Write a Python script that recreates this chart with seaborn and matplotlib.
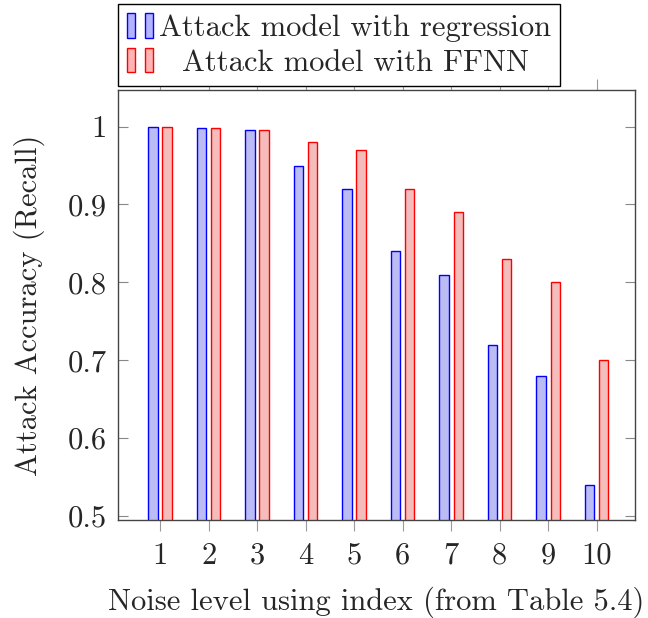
import pandas as pd
import numpy as np
import matplotlib
matplotlib.use("Agg")
import matplotlib.pyplot as plt
import seaborn as sns
from matplotlib.patches import Patch
from matplotlib.legend_handler import HandlerTuple
from matplotlib.transforms import Affine2D

noise_levels = ["1", "2", "3", "4", "5", "6", "7", "8", "9", "10"]
regression = [1.0, 0.998, 0.995, 0.95, 0.92, 0.84, 0.81, 0.72, 0.68, 0.54]
ffnn = [1.0, 0.998, 0.996, 0.98, 0.97, 0.92, 0.89, 0.83, 0.80, 0.70]
series_names = ["Attack model with regression", "Attack model with FFNN"]

data = pd.DataFrame({
    "noise": noise_levels * 2,
    "accuracy": regression + ffnn,
    "model": [series_names[0]] * 10 + [series_names[1]] * 10,
})

sns.set_style("white")
plt.rcParams['font.family'] = ['cmr10', 'DejaVu Serif']
plt.rcParams['mathtext.fontset'] = 'cm'
plt.rcParams['axes.formatter.use_mathtext'] = True

fill = {series_names[0]: (0.7, 0.7, 1.0), series_names[1]: (1.0, 0.7, 0.7)}
edge = {series_names[0]: (0, 0, 1), series_names[1]: (1, 0, 0)}
fs = 22

fig = plt.figure(figsize=(6.48, 6.18), dpi=100)
ax = fig.add_axes([0.182, 0.1586, 0.798, 0.6958])

sns.barplot(data=data, x="noise", y="accuracy", hue="model", order=noise_levels,
            hue_order=series_names, palette=fill, width=0.58, gap=0.33,
            ax=ax, legend=False)

for cont, name in zip(ax.containers, series_names):
    for bar in cont:
        bar.set_edgecolor(edge[name])
        bar.set_linewidth(1.0)

ax.set_xlim(-0.87, 9.79)
ax.set_ylim(0.495, 1.047)
ax.set_yticks([0.5, 0.6, 0.7, 0.8, 0.9, 1.0])
ax.set_yticklabels(["0.5", "0.6", "0.7", "0.8", "0.9", "1"])

for sp in ax.spines.values():
    sp.set_color("#444444")
    sp.set_linewidth(1.0)

ax.tick_params(axis="y", direction="in", left=True, right=True, length=7,
               color="#888888", labelsize=fs, pad=8)
ax.tick_params(axis="x", direction="out", bottom=True, top=True, length=8,
               color="#999999", labelsize=fs, pad=8)

ax.set_xlabel("Noise level using index (from Table 5.4)", fontsize=fs, labelpad=12)
ax.set_ylabel("Attack Accuracy (Recall)", fontsize=fs, labelpad=16)

handles = []
for name in series_names:
    p1 = Patch(facecolor=fill[name], edgecolor=edge[name], linewidth=1.0)
    p2 = Patch(facecolor=fill[name], edgecolor=edge[name], linewidth=1.0)
    handles.append((p1, p2))

leg = fig.legend(handles, series_names, loc="upper left",
                 bbox_to_anchor=(0.182, 0.9935), fontsize=fs,
                 handler_map={tuple: HandlerTuple(ndivide=None, pad=0.32)},
                 handlelength=0.85, handleheight=0.85, handletextpad=0.2,
                 labelspacing=0.2, borderpad=0.3, borderaxespad=0,
                 fancybox=False, framealpha=1.0, edgecolor="black")
leg.get_frame().set_linewidth(1.0)

# center the shorter legend entry like pgfplots does
fig.canvas.draw()
r = fig.canvas.get_renderer()
texts = leg.get_texts()
w0 = texts[0].get_window_extent(r).width
w1 = texts[1].get_window_extent(r).width
texts[1].set_transform(texts[1].get_transform() + Affine2D().translate((w0 - w1) / 2, 0))

plt.savefig("out.png", dpi=100)
